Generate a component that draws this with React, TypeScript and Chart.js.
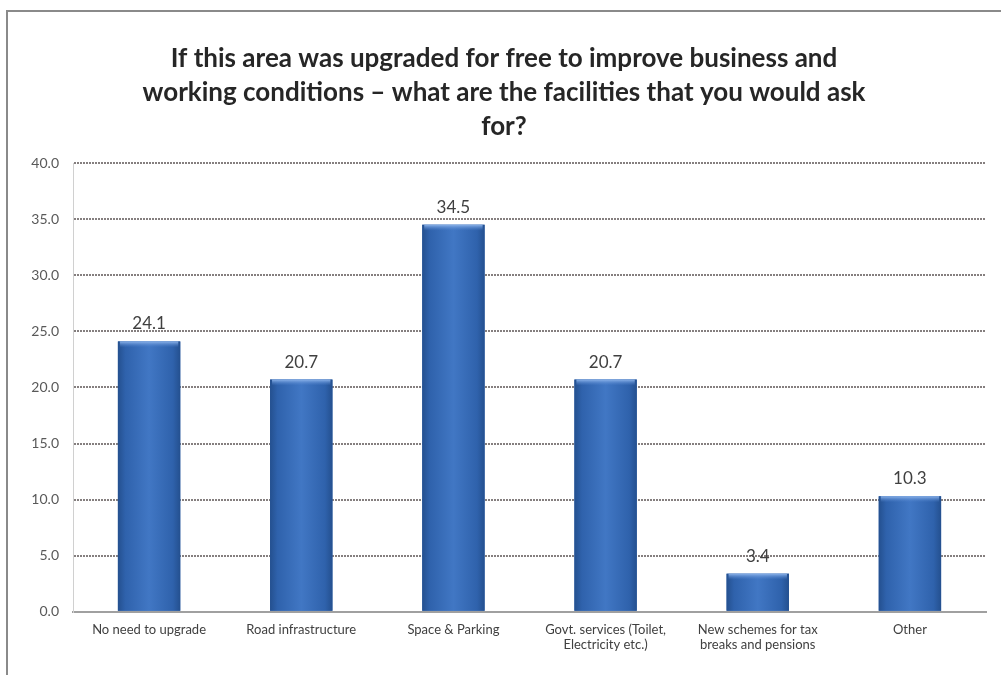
import React, { useEffect, useRef } from "react";
import { Chart, registerables } from "chart.js";

Chart.register(...registerables);

const categories: (string | string[])[] = [
  "No need to upgrade",
  "Road infrastructure",
  "Space & Parking",
  ["Govt. services (Toilet,", "Electricity etc.)"],
  ["New schemes for tax", "breaks and pensions"],
  "Other",
];
const values: number[] = [24.1, 20.7, 34.5, 20.7, 3.4, 10.3];
const yTicks: number[] = [0, 5, 10, 15, 20, 25, 30, 35, 40];
const titleLines: string[] = [
  "If this area was upgraded for free to improve business and",
  "working conditions \u2013 what are the facilities that you would ask",
  "for?",
];

const FONT = "Lato, 'Open Sans', sans-serif";

const framePlugin = {
  id: "frame",
  beforeDraw(chart: any) {
    const ctx = chart.ctx;
    ctx.save();
    ctx.fillStyle = "#ffffff";
    ctx.fillRect(0, 0, chart.width, chart.height);
    ctx.strokeStyle = "#8a8a8a";
    ctx.lineWidth = 2;
    ctx.beginPath();
    ctx.moveTo(7, chart.height);
    ctx.lineTo(7, 11);
    ctx.lineTo(chart.width, 11);
    ctx.stroke();
    ctx.restore();
  },
};

const barStylePlugin = {
  id: "barStyle",
  afterDatasetsDraw(chart: any) {
    const ctx = chart.ctx;
    const meta = chart.getDatasetMeta(0);
    ctx.save();
    meta.data.forEach((bar: any, i: number) => {
      const { x, y, base, width } = bar.getProps(["x", "y", "base", "width"], true);
      const left = x - width / 2;
      const h = base - y;
      const g = ctx.createLinearGradient(left, 0, left + width, 0);
      g.addColorStop(0, "#24508f");
      g.addColorStop(0.12, "#2f62ac");
      g.addColorStop(0.5, "#4177c4");
      g.addColorStop(0.88, "#2f62ac");
      g.addColorStop(1, "#24508f");
      ctx.fillStyle = g;
      ctx.fillRect(left, y, width, h);
      // top bevel
      const tb = Math.min(6, h / 3);
      const gt = ctx.createLinearGradient(0, y, 0, y + tb);
      gt.addColorStop(0, "#8db4ea");
      gt.addColorStop(1, "rgba(80,130,205,0)");
      ctx.fillStyle = gt;
      ctx.fillRect(left + 2, y, width - 4, tb);
      // value label
      ctx.fillStyle = "#404040";
      ctx.font = `17px ${FONT}`;
      ctx.textAlign = "center";
      ctx.textBaseline = "bottom";
      ctx.fillText(values[i].toFixed(1), x, y - 9);
    });
    ctx.restore();
  },
};

export default function App() {
  const ref = useRef<HTMLCanvasElement | null>(null);

  useEffect(() => {
    document.body.style.margin = "0";
    const canvas = ref.current!;
    const chart = new Chart(canvas, {
      type: "bar",
      data: {
        labels: categories as any,
        datasets: [
          {
            data: values,
            backgroundColor: "#3568b3",
            barPercentage: 0.41,
            categoryPercentage: 1,
          },
        ],
      },
      options: {
        responsive: false,
        animation: false,
        layout: { padding: { left: 22, right: 15, top: 0, bottom: 12 } },
        plugins: {
          legend: { display: false },
          tooltip: { enabled: false },
          title: {
            display: true,
            text: titleLines,
            color: "#262626",
            font: { family: FONT, size: 26, weight: "bold", lineHeight: "34px" },
            padding: { top: 42, bottom: 19 },
          },
        },
        scales: {
          x: {
            grid: { display: false, drawTicks: false },
            border: { display: true, color: "#a0a0a0", width: 2 },
            ticks: {
              color: "#404040",
              font: { family: FONT, size: 13 },
              padding: 10,
              maxRotation: 0,
              autoSkip: false,
            },
          },
          y: {
            min: 0,
            max: 40,
            afterBuildTicks: (scale: any) => {
              scale.ticks = yTicks.map((v) => ({ value: v }));
            },
            afterFit: (scale: any) => {
              scale.width = 51;
            },
            grid: {
              color: (c: any) => (c.tick && c.tick.value === 0 ? "rgba(0,0,0,0)" : "#857f7f"),
              lineWidth: 2,
              drawTicks: false,
            },
            border: { display: true, color: "#d0d0d0", width: 1, dash: [2, 1] },
            ticks: {
              color: "#595959",
              font: { family: FONT, size: 14 },
              padding: 14,
              callback: (v: any) => Number(v).toFixed(1),
            },
          },
        },
      },
      plugins: [framePlugin, barStylePlugin],
    });
    return () => chart.destroy();
  }, []);

  return (
    <div style={{ width: 1001, height: 675 }}>
      <canvas ref={ref} width={1001} height={675} style={{ display: "block" }} />
    </div>
  );
}
